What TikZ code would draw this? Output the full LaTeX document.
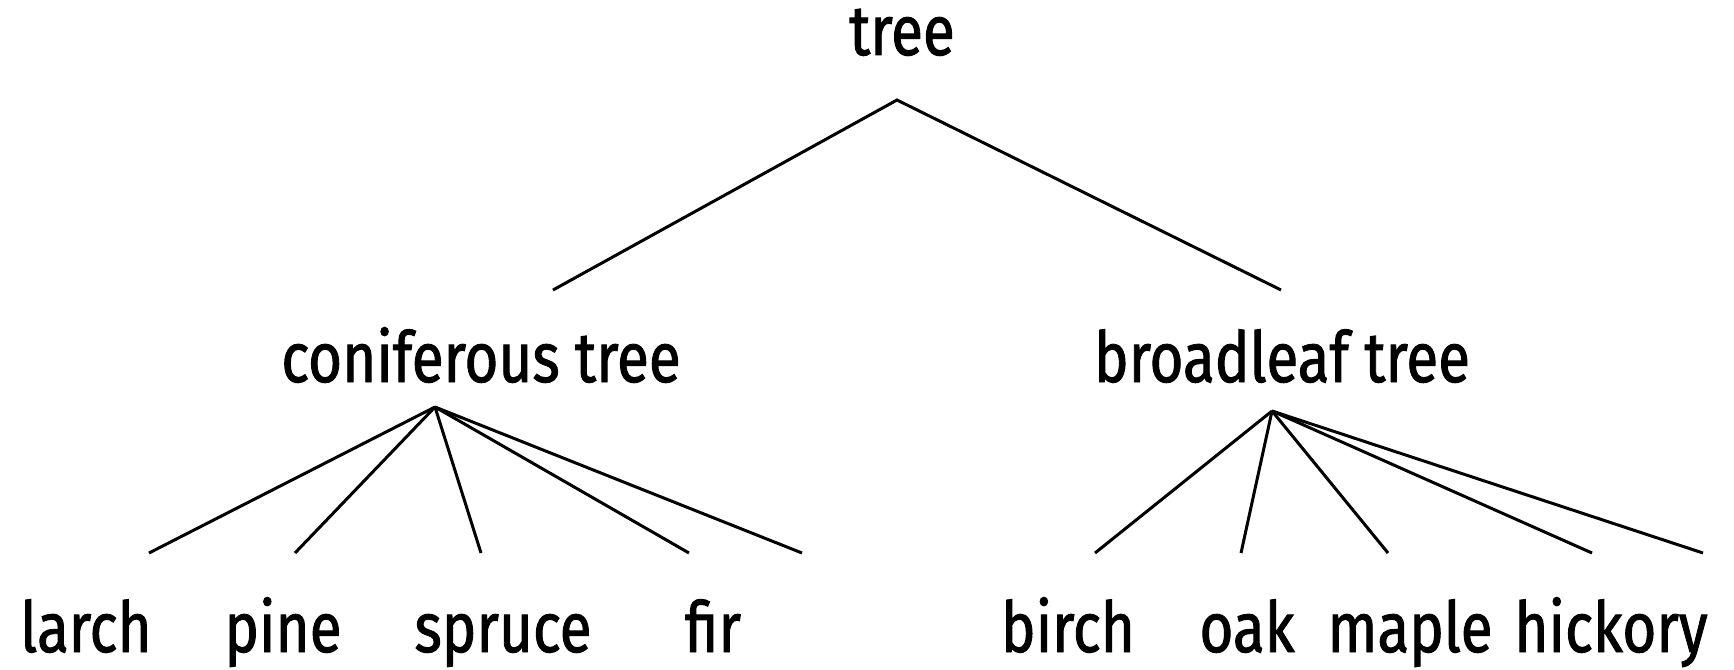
\documentclass[tikz,border=0pt]{standalone}
\usepackage{fontspec}
\setmainfont[FakeStretch=0.83, FakeBold=1.3]{Fira Sans}

\begin{document}
\begin{tikzpicture}[x=0.01cm, y=-0.01cm, line width=0.85pt,
                    every node/.style={anchor=base, inner sep=0pt, font=\fontsize{20}{24}\selectfont}]
                            \useasboundingbox (0,0) rectangle (1734,670);

                            \node (tree) at (902,55) {tree};
                            \node (conif) at (481,382) {coniferous tree};
                            \node (broad) at (1282,382) {broadleaf tree};

                            \node (larch) at (86,652) {larch};
                            \node (pine) at (283,652) {pine};
                            \node (spruce) at (503,652) {spruce};
                            \node (fir) at (713,652) {fir};
                            \node (birch) at (1068,652) {birch};
                            \node (oak) at (1247,652) {oak};
                            \node (maple) at (1410,652) {maple};
                            \node (hickory) at (1611,652) {hickory};

                            \coordinate (t0) at (897,100);
                            \coordinate (t1) at (553,290);
                            \coordinate (t2) at (1281,290);

                            \coordinate (c0) at (435,407);
                            \coordinate (c1) at (149,553);
                            \coordinate (c2) at (295,553);
                            \coordinate (c3) at (481,553);
                            \coordinate (c4) at (689,553);
                            \coordinate (c5) at (802,553);

                            \coordinate (b0) at (1272,411);
                            \coordinate (b1) at (1095,553);
                            \coordinate (b2) at (1241,553);
                            \coordinate (b3) at (1388,553);
                            \coordinate (b4) at (1592,553);
                            \coordinate (b5) at (1703,553);

                            \draw (t1) -- (t0) -- (t2);
                            \foreach \i in {1,...,5} {
                                \draw (c0) -- (c\i);
                                \draw (b0) -- (b\i);
                            }
                        \end{tikzpicture}
\end{document}
